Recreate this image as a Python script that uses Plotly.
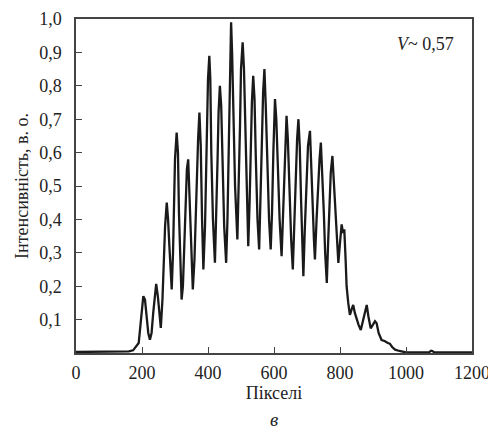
import plotly.graph_objects as go

pixels = [0, 60, 120, 160, 173, 183, 190, 196, 200, 204, 209, 214, 219, 224, 229, 234, 239, 243, 248, 252,
          257, 262, 266, 270, 275, 279, 283, 286, 290, 294, 297, 300, 305, 309, 312, 316, 320, 324, 328, 332,
          336, 340, 344, 348, 354, 359, 363, 367, 370, 374, 378, 382, 386, 391, 395, 398, 400, 404, 407, 410,
          415, 421, 425, 429, 432, 436, 440, 444, 449, 455, 459, 463, 466, 470, 473, 477, 482, 489, 493, 497,
          500, 505, 509, 513, 517, 522, 526, 530, 533, 537, 541, 545, 550, 555, 559, 563, 567, 571, 575, 580,
          585, 590, 594, 598, 601, 603, 607, 612, 617, 623, 627, 631, 635, 638, 642, 647, 652, 657, 661, 665,
          670, 674, 678, 682, 686, 689, 693, 698, 703, 709, 713, 717, 721, 724, 729, 734, 738, 742, 746, 751,
          755, 760, 764, 768, 772, 777, 781, 786, 790, 795, 800, 805, 809, 813, 817, 820, 825, 830, 835, 840,
          845, 850, 856, 863, 868, 874, 881, 886, 893, 900, 906, 911, 917, 926, 935, 945, 951, 958, 967, 980,
          991, 1000, 1040, 1070, 1076, 1080, 1086, 1150, 1200]
intensity = [0.003, 0.003, 0.004, 0.005, 0.008, 0.02, 0.03, 0.09, 0.14, 0.17, 0.16, 0.11, 0.06, 0.04, 0.06, 0.12, 0.18, 0.207, 0.17, 0.13,
             0.075, 0.16, 0.27, 0.38, 0.45, 0.40, 0.32, 0.24, 0.19, 0.30, 0.45, 0.58, 0.66, 0.60, 0.42, 0.26, 0.16, 0.20, 0.33, 0.48,
             0.55, 0.58, 0.47, 0.33, 0.19, 0.28, 0.42, 0.55, 0.64, 0.72, 0.62, 0.40, 0.25, 0.38, 0.55, 0.72, 0.82, 0.89, 0.82, 0.60,
             0.40, 0.27, 0.40, 0.58, 0.72, 0.80, 0.74, 0.58, 0.38, 0.27, 0.40, 0.62, 0.85, 0.99, 0.90, 0.72, 0.50, 0.34, 0.48, 0.68,
             0.85, 0.93, 0.85, 0.66, 0.45, 0.32, 0.45, 0.64, 0.75, 0.83, 0.76, 0.58, 0.40, 0.31, 0.44, 0.62, 0.78, 0.85, 0.74, 0.56,
             0.40, 0.31, 0.42, 0.60, 0.70, 0.76, 0.70, 0.54, 0.40, 0.29, 0.40, 0.55, 0.66, 0.71, 0.64, 0.48, 0.34, 0.25, 0.38, 0.53,
             0.64, 0.70, 0.62, 0.46, 0.32, 0.23, 0.36, 0.52, 0.62, 0.665, 0.58, 0.45, 0.34, 0.28, 0.40, 0.52, 0.58, 0.63, 0.55, 0.42,
             0.30, 0.21, 0.33, 0.45, 0.54, 0.59, 0.52, 0.42, 0.34, 0.27, 0.33, 0.385, 0.36, 0.37, 0.28, 0.20, 0.15, 0.114, 0.13, 0.144,
             0.12, 0.10, 0.085, 0.069, 0.09, 0.12, 0.144, 0.11, 0.074, 0.085, 0.095, 0.089, 0.06, 0.039, 0.036, 0.03, 0.028, 0.018, 0.01, 0.006,
             0.004, 0.002, 0.002, 0.002, 0.007, 0.006, 0.002, 0.002, 0.002]

x_ticks = [0, 200, 400, 600, 800, 1000, 1200]
x_ticklabels = ["0", "200", "400", "600", "800", "1000", "1200"]
y_ticks = [0.1, 0.2, 0.3, 0.4, 0.5, 0.6, 0.7, 0.8, 0.9, 1.0]
y_ticklabels = ["0,1", "0,2", "0,3", "0,4", "0,5", "0,6", "0,7", "0,8", "0,9", "1,0"]

FONT = "Liberation Serif, DejaVu Serif, serif"

fig = go.Figure()
fig.add_trace(go.Scatter(x=pixels, y=intensity, mode="lines",
                         line=dict(color="#1a1a1a", width=2.3), showlegend=False))

# The page places the figure 8px from the top-left corner (default body margin),
# so the figure is 8px smaller and its left/top margins are 8px smaller.
fig.update_layout(
    width=488, height=424,
    margin=dict(l=68, r=24, t=11, b=79, autoexpand=False),
    plot_bgcolor="white", paper_bgcolor="white",
    font=dict(family=FONT, size=18, color="#222"),
    xaxis=dict(range=[0, 1200], tickvals=x_ticks, ticktext=x_ticklabels,
               ticks="inside", ticklen=6, tickcolor="#444", tickwidth=1,
               showline=True, linecolor="#444", linewidth=1.5, mirror=True,
               showgrid=False, zeroline=False, ticklabelstandoff=3, automargin=False,
               title=dict(text="Пікселі", standoff=0, font=dict(size=18))),
    yaxis=dict(range=[0, 1.0], tickvals=y_ticks, ticktext=y_ticklabels,
               ticks="inside", ticklen=6, tickcolor="#444", tickwidth=1,
               showline=True, linecolor="#444", linewidth=1.5, mirror=True,
               showgrid=False, zeroline=False, ticklabelstandoff=9, automargin=False,
               title=dict(text="Інтенсивність, в. о.", standoff=6, font=dict(size=18))),
    annotations=[
        dict(x=1150, y=0.925, xref="x", yref="y", xanchor="right", yanchor="middle",
             text="<i>V</i>~ 0,57", showarrow=False, font=dict(family=FONT, size=18, color="#222")),
        dict(x=0.5, y=-0.2, xref="paper", yref="paper", xanchor="center", yanchor="middle",
             text="<i>в</i>", showarrow=False, font=dict(family=FONT, size=19, color="#222")),
    ],
)

fig.write_html("out.html")
